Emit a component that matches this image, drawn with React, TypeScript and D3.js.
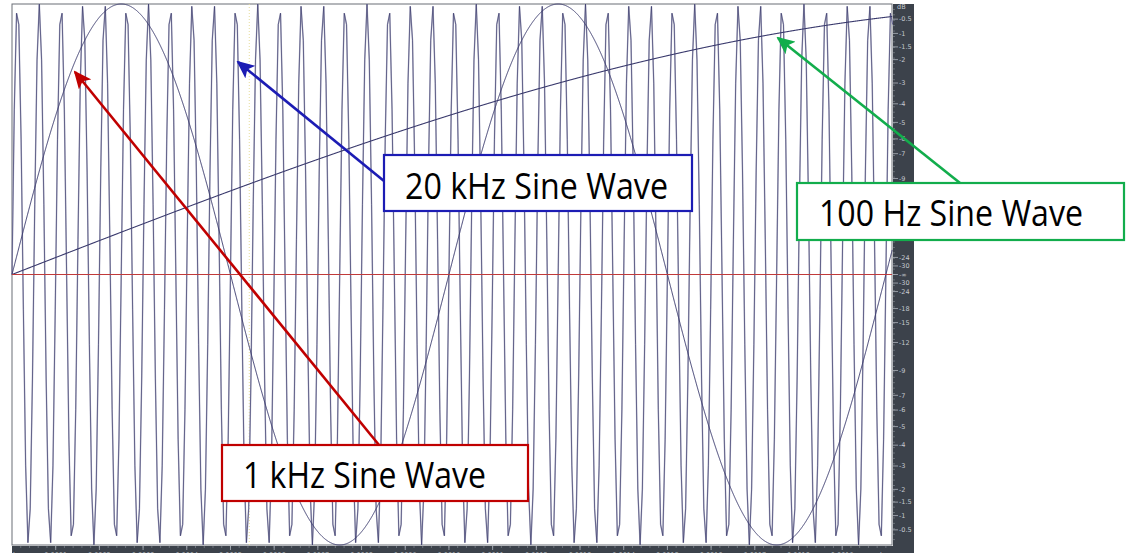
import React from "react";
import * as d3 from "d3";

// waves drawn in the editor view (Hz, linear peak amplitude, sample rate of the drawn trace)
const waveNames = ["20 kHz", "1 kHz", "100 Hz"];
const waveFreqs = [20000, 1000, 100];
const waveAmps = [1, 1, 1];
const waveRates = [192000, 2000000, 2000000];

// time ruler (seconds)
const timeStart = 0;
const timeEnd = 0.002014;
const timeTicks = [0.0001, 0.0002, 0.0003, 0.0004, 0.0005, 0.0006, 0.0007, 0.0008, 0.0009, 0.001, 0.0011, 0.0012, 0.0013, 0.0014, 0.0015, 0.0016, 0.0017, 0.0018, 0.0019];

// level ruler (dB), mirrored above and below the centre line
const dbTicks = [-0.5, -1, -1.5, -2, -3, -4, -5, -6, -7, -9, -12, -15, -18, -24, -30];

// callouts
const callouts = [
  { text: "20 kHz Sine Wave", color: "#1c1cb4", box: [384, 155, 692, 211], textX: [405, 668], baseline: 199, from: [384, 181], to: [238, 62] },
  { text: "100 Hz Sine Wave", color: "#12ad4c", box: [797, 183, 1124, 240], textX: [819, 1083], baseline: 226, from: [960, 183], to: [778, 38] },
  { text: "1 kHz Sine Wave", color: "#c00000", box: [222, 445, 528, 501], textX: [243, 486], baseline: 488, from: [379, 445], to: [75, 72] }
];

const W = 1126,
  H = 553;
const plot = { left: 12, right: 892, top: 4, bottom: 545 };
const rulerFont = "DejaVu Sans, sans-serif";

export default function App() {
  const x = d3.scaleLinear().domain([timeStart, timeEnd]).range([plot.left, plot.right]);
  const y = d3.scaleLinear().domain([-1, 1]).range([plot.bottom, plot.top]);

  // each trace is drawn from its samples, joined by straight segments
  const paths = waveFreqs.map((f, i) => {
    const samples = d3.range(timeStart, timeEnd + 1 / waveRates[i], 1 / waveRates[i]);
    return d3
      .line<number>()
      .x(t => x(t))
      .y(t => y(waveAmps[i] * Math.sin(2 * Math.PI * f * t)))(samples);
  });

  const minorTime = d3.range(0.00002, timeEnd, 0.00002);
  const minorLevel = d3.range(-0.98, 0.99, 0.02);
  const axisX = plot.right + 1;
  // labels hidden under a callout box are not drawn
  const hidden = (yy: number) =>
    callouts.some(c => axisX + 6 >= c.box[0] && axisX + 6 <= c.box[2] && yy > c.box[1] - 3 && yy < c.box[3] + 3);

  return (
    <svg width={W} height={H} style={{ position: "absolute", left: 0, top: 0, background: "#fff" }}>
      <defs>
        {callouts.map((c, i) => (
          <marker key={i} id={`head${i}`} markerUnits="userSpaceOnUse" markerWidth={18} markerHeight={16} refX={16} refY={8} orient="auto">
            <path d="M0,0 L18,8 L0,16 L4,8 Z" fill={c.color} />
          </marker>
        ))}
      </defs>

      {/* waveform area */}
      <rect x={plot.left} y={plot.top} width={plot.right - plot.left} height={plot.bottom - plot.top} fill="#fff" stroke="#6a6e76" />
      <line x1={x(0.000543)} x2={x(0.000543)} y1={plot.top} y2={plot.bottom} stroke="#e6dc9a" strokeDasharray="1,2" />
      <path d={paths[0]} fill="none" stroke="#b4b4c8" strokeWidth={1.5} />
      <path d={paths[0]} fill="none" stroke="#2c2c62" strokeWidth={0.6} />
      <path d={paths[1]} fill="none" stroke="#3b3b6e" strokeWidth={1} />
      <path d={paths[2]} fill="none" stroke="#3b3b6e" strokeWidth={1.1} />
      <line x1={plot.left} x2={plot.right} y1={y(0)} y2={y(0)} stroke="#c03a3a" strokeWidth={1} />

      {/* level ruler */}
      <rect x={axisX} y={plot.top} width={21} height={H - plot.top} fill="#3c424b" />
      {minorLevel.map((v, i) => (
        <line key={i} x1={axisX} x2={axisX + 2} y1={y(v)} y2={y(v)} stroke="#8a9098" strokeWidth={0.6} />
      ))}
      {dbTicks.flatMap(db => {
        const a = Math.pow(10, db / 20);
        return [a, -a].map((v, j) => (
          <g key={`${db}-${j}`} transform={`translate(${axisX},${y(v)})`}>
            <line x2={5} stroke="#aeb4bc" strokeWidth={0.8} />
            {!hidden(y(v)) && (
              <text x={6} dy="0.35em" fontSize={6.5} fontFamily={rulerFont} fill="#c4c9d0">
                {db}
              </text>
            )}
          </g>
        ));
      })}
      <text x={axisX + 4} y={plot.top + 5} fontSize={6.5} fontFamily={rulerFont} fill="#c4c9d0">
        dB
      </text>
      <g transform={`translate(${axisX},${y(0)})`}>
        <line x2={5} stroke="#aeb4bc" strokeWidth={0.8} />
        <text x={6} dy="0.35em" fontSize={6.5} fontFamily={rulerFont} fill="#c4c9d0">
          -∞
        </text>
      </g>

      {/* time ruler */}
      <rect x={plot.left} y={plot.bottom + 1} width={axisX + 21 - plot.left} height={H - plot.bottom} fill="#3c424b" />
      {minorTime.map((t, i) => (
        <line key={i} x1={x(t)} x2={x(t)} y1={plot.bottom + 1} y2={plot.bottom + 3} stroke="#8a9098" strokeWidth={0.6} />
      ))}
      {timeTicks.map(t => (
        <g key={t} transform={`translate(${x(t)},${plot.bottom + 1})`}>
          <line y2={4} stroke="#aeb4bc" strokeWidth={0.8} />
          <text y={11} textAnchor="middle" fontSize={6.5} fontFamily={rulerFont} fill="#c4c9d0">
            {t.toFixed(4)}
          </text>
        </g>
      ))}
      <text x={plot.left + 1} y={plot.bottom + 12} fontSize={6.5} fontFamily={rulerFont} fill="#c4c9d0">
        hms
      </text>
      <text x={plot.right - 12} y={plot.bottom + 12} fontSize={6.5} fontFamily={rulerFont} fill="#c4c9d0">
        hms
      </text>

      {/* callouts */}
      {callouts.map((c, i) => (
        <g key={c.text}>
          <line x1={c.from[0]} y1={c.from[1]} x2={c.to[0]} y2={c.to[1]} stroke={c.color} strokeWidth={2.6} markerEnd={`url(#head${i})`} />
          <rect x={c.box[0]} y={c.box[1]} width={c.box[2] - c.box[0]} height={c.box[3] - c.box[1]} fill="#fff" stroke={c.color} strokeWidth={2.2} />
          <text
            x={c.textX[0]}
            y={c.baseline}
            textLength={c.textX[1] - c.textX[0]}
            lengthAdjust="spacingAndGlyphs"
            fontSize={36}
            fontFamily="Open Sans, Lato, sans-serif"
            fill="#000"
          >
            {c.text}
          </text>
        </g>
      ))}
    </svg>
  );
}
